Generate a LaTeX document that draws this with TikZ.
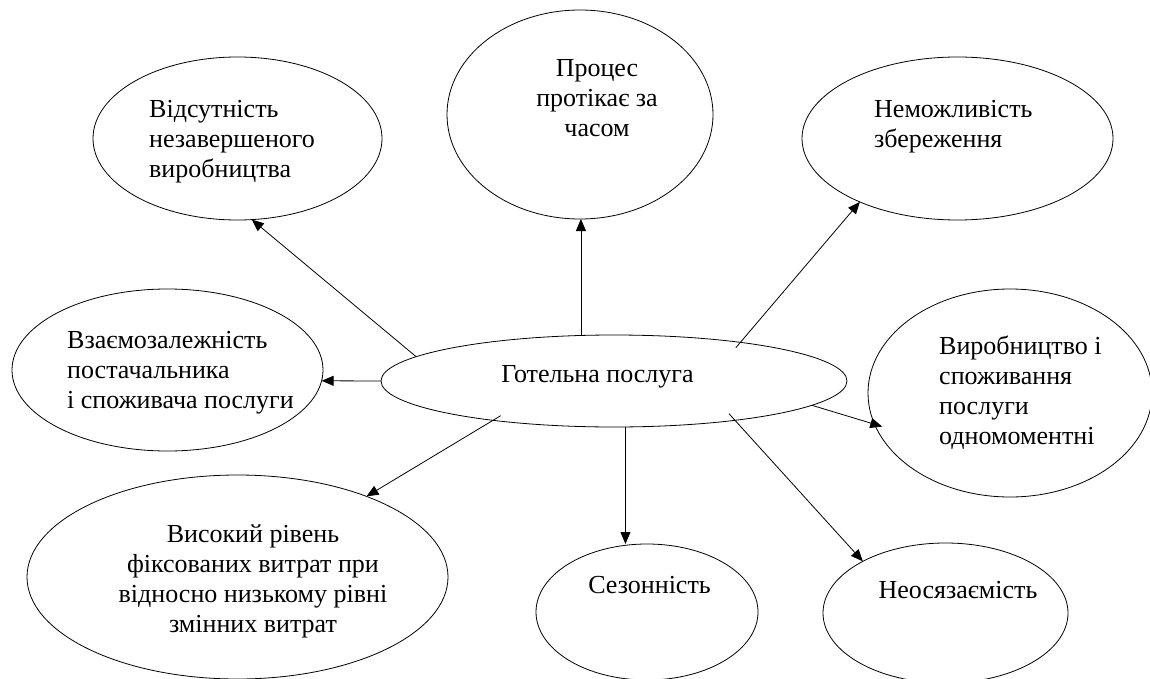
\documentclass[tikz,border=0pt]{standalone}
\usepackage{fontspec}
\newfontfamily\tnr{Liberation Serif}
\usetikzlibrary{shapes.geometric,arrows.meta,calc}
\begin{document}
\begin{tikzpicture}[x=1pt,y=-1pt,
  ell/.style={ellipse,draw,line width=0.8pt,inner sep=0pt,outer sep=0pt},
  lbl/.style={font=\tnr\fontsize{26}{30}\selectfont,inner sep=0pt,align=left},
  arr/.style={line width=0.8pt,-{Triangle[length=12pt,width=10pt]}}]
\useasboundingbox (0,0) rectangle (1150,679);
\clip (0,0) rectangle (1150,679);
\node[ell,minimum width=289pt,minimum height=163pt] (tl) at (237.5,138.5) {};
\node[ell,minimum width=266pt,minimum height=209pt] (t) at (580,114.5) {};
\node[ell,minimum width=311pt,minimum height=163pt] (tr) at (957.5,138.5) {};
\node[ell,minimum width=311pt,minimum height=162pt] (l) at (167.5,370) {};
\node[ell,minimum width=466pt,minimum height=92pt] (c) at (614,381) {};
\node[ell,minimum width=284pt,minimum height=208pt] (r) at (1010,393) {};
\node[ell,minimum width=421pt,minimum height=204pt] (bl) at (237.5,577) {};
\node[ell,minimum width=222pt,minimum height=136pt] (s) at (647,612) {};
\node[ell,minimum width=245pt,minimum height=140pt] (n) at (945.5,613) {};
\node[lbl,anchor=base west] (tlx) at (149,178) {Відсутність\\незавершеного\\виробництва};
\node[lbl,anchor=base,align=center] (tx) at (597,137) {Процес\\протікає за\\часом};
\node[lbl,anchor=base west] (trx) at (874,148) {Неможливість\\збереження};
\node[lbl,anchor=base west] (lx) at (67,408) {Взаємозалежність\\постачальника\\і споживача послуги};
\node[lbl,anchor=base] (cx) at (597.5,382) {Готельна послуга};
\node[lbl,anchor=base west] (rx) at (939,444) {Виробництво і\\споживання\\послуги\\одномоментні};
\node[lbl,anchor=base,align=center] (blx) at (253,632) {Високий рівень\\фіксованих витрат при\\відносно низькому рівні\\змінних витрат};
\node[lbl,anchor=base] (sx) at (649.5,593) {Сезонність};
\node[lbl,anchor=base] (nx) at (958,598) {Неосязаємість};
\draw[arr] (c.173) -- (tl.-80);
\draw[arr] (c.180) -- (l.-4.6);
\draw[arr] (c.126) -- (c.126 |- t.south);
\draw[arr,shorten <=-7pt] (c.17.7) -- (tr.213);
\draw[arr,shorten >=-8pt] (c.-7.2) -- (r.193.4);
\draw[arr,shorten <=-9pt] (c.-18.1) -- (n.148.2);
\draw[arr] (c.-76.5) -- (c.-76.5 |- s.north);
\draw[arr,shorten <=-9pt] (c.198.1) -- (bl.32.8);
\end{tikzpicture}
\end{document}
